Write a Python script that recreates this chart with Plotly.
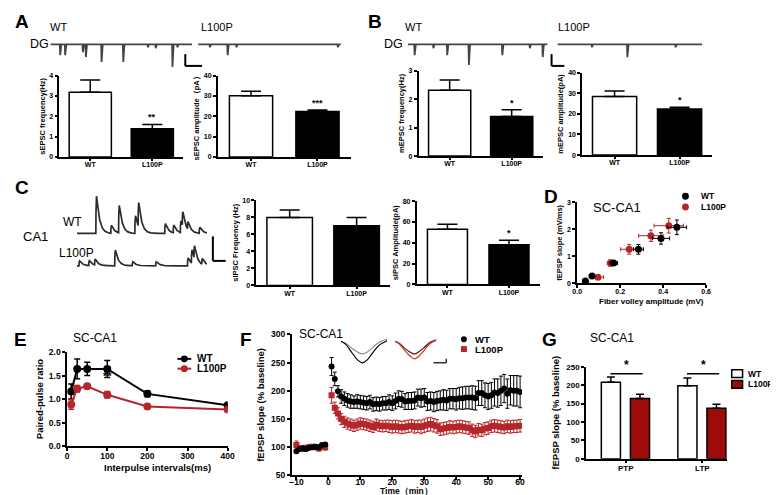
import numpy as np
import plotly.graph_objects as go

W, H = 778, 495
FONT = "Liberation Sans"
RED = "#b5262a"
BAR_RED = "#9e0b0b"

genotypes = ["WT", "L100P"]

# A: sEPSC in DG
sepsc_freq = [3.19, 1.39]
sepsc_freq_sem = [0.60, 0.21]
sepsc_amp = [30.2, 22.4]
sepsc_amp_sem = [2.1, 0.7]
# B: mEPSC in DG
mepsc_freq = [2.32, 1.39]
mepsc_freq_sem = [0.36, 0.24]
mepsc_amp = [28.5, 22.4]
mepsc_amp_sem = [2.6, 0.9]
# C: sIPSC in CA1
sipsc_freq = [7.95, 7.0]
sipsc_freq_sem = [0.9, 0.95]
sipsc_amp = [53.0, 38.2]
sipsc_amp_sem = [4.7, 4.1]

# example recordings: event times (s) and amplitudes (pA)
a_wt_t = [0.69, 1.04, 2.29, 2.50, 3.61, 5.14, 6.88, 7.43, 8.61, 8.96]
a_wt_amp = [22, 22, 16, 26, 36, 36, 6, 8, 46, 6]
a_mut_t = [0.83, 2.07, 2.69, 9.79]
a_mut_amp = [6, 22, 6, 6]
b_wt_t = [0.49, 1.83, 2.82, 4.37, 6.76, 8.73, 9.65]
b_wt_amp = [22, 8, 22, 42, 22, 8, 26]
b_mut_t = [2.38, 4.83, 8.16]
b_mut_amp = [6, 26, 6]
c_wt_t = [0.29, 0.52, 0.64, 0.89, 0.94, 1.35, 1.48, 1.59, 1.62, 1.70, 1.88]
c_wt_amp = [76, 16, 56, 36, 50, 20, 16, 24, 30, 16, 12]
c_mut_t = [0.03, 0.18, 0.27, 0.58, 0.85, 1.21, 1.70, 1.76, 1.80, 1.92]
c_mut_amp = [10, 10, 12, 32, 8, 8, 16, 28, 26, 12]

# D: input-output
fv_wt = [0.038, 0.069, 0.17, 0.285, 0.39, 0.464]
fv_wt_sem = [0.008, 0.012, 0.018, 0.023, 0.04, 0.045]
slope_wt = [0.085, 0.27, 0.75, 1.26, 1.66, 2.07]
slope_wt_sem = [0.05, 0.05, 0.05, 0.18, 0.21, 0.27]
fv_mut = [0.041, 0.097, 0.155, 0.242, 0.343, 0.426]
fv_mut_sem = [0.01, 0.026, 0.015, 0.04, 0.057, 0.068]
slope_mut = [0.02, 0.23, 0.75, 1.26, 1.76, 2.13]
slope_mut_sem = [0.03, 0.04, 0.12, 0.18, 0.21, 0.27]

# E: paired-pulse ratio
ipi = [10, 25, 50, 100, 200, 400]
ppr_wt = [1.16, 1.64, 1.64, 1.64, 1.11, 0.87]
ppr_wt_sem = [0.16, 0.21, 0.14, 0.18, 0.06, 0.03]
ppr_mut = [0.885, 1.22, 1.27, 1.09, 0.84, 0.78]
ppr_mut_sem = [0.1, 0.07, 0.03, 0.07, 0.03, 0.03]

# F: LTP time course
t_base = [-10, -9, -8, -7, -6, -5, -4, -3, -2, -1]
t_post = list(range(1, 61))
f_wt_base = [93, 97, 98, 97, 99, 100, 101, 100, 104, 105]
f_wt_base_sem = [3, 3, 3, 3, 3, 3, 3, 3, 3, 3]
f_mut_base = [104, 98, 97, 99, 100, 101, 100, 98, 101, 100]
f_mut_base_sem = [7, 5, 4, 4, 4, 4, 4, 5, 5, 5]
f_wt_post = [243, 221, 199, 190, 186, 183, 181, 180, 181, 180,
             179, 178, 180, 176, 177, 176, 178, 178, 180, 178,
             182, 186, 185, 181, 182, 182, 183, 188, 187, 188,
             181, 182, 180, 182, 183, 184, 183, 186, 186, 185,
             187, 187, 188, 188, 188, 187, 196, 196, 192, 190,
             192, 197, 196, 200, 204, 195, 201, 200, 200, 198]
f_wt_post_sem = [16, 12, 10, 12, 12, 12, 12, 11, 12, 12,
                 12, 12, 12, 12, 12, 12, 12, 12, 13, 13,
                 14, 14, 14, 14, 15, 15, 15, 15, 16, 16,
                 16, 16, 17, 17, 17, 18, 18, 18, 18, 19,
                 19, 20, 20, 20, 21, 21, 22, 22, 22, 23,
                 23, 24, 25, 26, 25, 26, 26, 27, 27, 28]
f_mut_post = [192, 170, 160, 150, 145, 142, 140, 138, 140, 142,
              141, 140, 138, 136, 140, 138, 137, 138, 137, 136,
              137, 136, 135, 136, 137, 138, 136, 137, 136, 138,
              140, 141, 139, 137, 132, 133, 134, 136, 135, 136,
              137, 136, 135, 134, 130, 128, 131, 130, 133, 134,
              137, 138, 137, 136, 135, 137, 136, 137, 137, 138]
f_mut_post_sem = [14, 10, 10, 10, 10, 10, 10, 10, 10, 10,
                  10, 10, 10, 10, 10, 10, 10, 10, 11, 11,
                  11, 11, 11, 11, 11, 11, 11, 11, 12, 12,
                  12, 12, 12, 12, 11, 11, 11, 11, 11, 11,
                  11, 11, 11, 11, 11, 11, 11, 11, 11, 11,
                  11, 11, 11, 11, 11, 11, 11, 11, 11, 11]
# F inset fEPSP waveforms (ms, mV)
inset_t = [0, 1, 2.3, 3.6, 4.7, 5.7, 7, 8.3, 10]
wt_before = [0, -0.08, -0.28, -0.44, -0.52, -0.44, -0.24, -0.04, 0.08]
wt_after = [0, -0.12, -0.44, -0.76, -0.88, -0.76, -0.44, -0.16, 0.02]
mut_before = [0, -0.08, -0.28, -0.44, -0.52, -0.44, -0.26, -0.06, 0.06]
mut_after = [0, -0.1, -0.36, -0.6, -0.72, -0.62, -0.38, -0.12, 0.04]

# G: PTP / LTP summary
stages = ["PTP", "LTP"]
g_wt = [208, 198.6]
g_wt_sem = [14, 21]
g_mut = [164, 137]
g_mut_sem = [11, 11]


fig = go.Figure()
lay = dict(width=W, height=H, margin=dict(l=0, r=0, t=0, b=0),
           paper_bgcolor="white", plot_bgcolor="rgba(0,0,0,0)",
           showlegend=False, barmode="overlay",
           font=dict(family=FONT, color="black"))
shapes = []
annos = []


def px_x(px):
    return px / W


def px_y(py):
    return 1 - py / H


def ref(n, a="x"):
    return a if n == 1 else f"{a}{n}"


def key(n, a="x"):
    return f"{a}axis" if n == 1 else f"{a}axis{n}"


def bfont(size, bold=True, color="black"):
    return dict(family=FONT, size=size, color=color, weight="bold" if bold else "normal")


def axis(**kw):
    a = dict(showline=True, linecolor="black", linewidth=1.5, ticks="outside",
             ticklen=3, tickwidth=1.5, tickcolor="black", showgrid=False,
             zeroline=False, fixedrange=True, tickfont=bfont(7))
    a.update(kw)
    return a


def set_axes(n, xbox, ybox, xkw, ykw):
    lay[key(n)] = axis(domain=[px_x(xbox[0]), px_x(xbox[1])], anchor=ref(n, "y"), **xkw)
    lay[key(n, "y")] = axis(domain=[px_y(ybox[1]), px_y(ybox[0])], anchor=ref(n), **ykw)


def text(x, y, s, size, bold=False, xanchor="center", color="black", yanchor="middle"):
    annos.append(dict(x=px_x(x), y=px_y(y), xref="paper", yref="paper", text=s,
                      showarrow=False, xanchor=xanchor, yanchor=yanchor,
                      font=bfont(size, bold, color)))


def seg(x0, y0, x1, y1, width=2, color="black"):
    shapes.append(dict(type="line", xref="paper", yref="paper", x0=px_x(x0), y0=px_y(y0),
                       x1=px_x(x1), y1=px_y(y1), line=dict(color=color, width=width)))


def bar_panel(n, xbox, ybox, vals, sems, ymax, dtick, ytitle, stars, width=0.68):
    fig.add_trace(go.Bar(
        x=genotypes, y=vals, width=width,
        marker=dict(color=["white", "black"], line=dict(color="black", width=1.5)),
        error_y=dict(type="data", symmetric=False, array=sems, arrayminus=[0, 0],
                     color="black", thickness=1.5, width=10),
        xaxis=ref(n), yaxis=ref(n, "y")))
    set_axes(n, xbox, ybox,
             dict(type="category", range=[-0.5, 1.5], ticklen=2, ticklabelstandoff=-2),
             dict(range=[0, ymax], dtick=dtick,
                  title=dict(text=ytitle, standoff=3, font=bfont(7.5))))
    annos.append(dict(xref=ref(n), yref=ref(n, "y"), x=1, y=vals[1] + sems[1], text=stars,
                      showarrow=False, yanchor="bottom", yshift=0, font=bfont(9)))


def epsc_trace(n, xbox, ybox, times, amps, span=10.0):
    xs, ys = [0], [0]
    for t, a in zip(times, amps):
        xs += [t - 0.03, t, t + 0.08]
        ys += [0, -a, 0]
    xs.append(span)
    ys.append(0)
    fig.add_trace(go.Scatter(x=xs, y=ys, mode="lines", line=dict(color="#444444", width=1.8),
                             xaxis=ref(n), yaxis=ref(n, "y")))
    set_axes(n, xbox, ybox, dict(range=[0, span], visible=False),
             dict(range=[-50, 10], visible=False))


def ipsc_trace(n, xbox, ybox, times, amps, yr, span=2.0):
    t = np.linspace(0, span, 801)
    k = np.linspace(0, 0.3, 3001)
    kern = (1 - np.exp(-k / 0.004)) * np.exp(-k / 0.045)
    norm = kern.max()
    y = np.zeros_like(t)
    for t0, a in zip(times, amps):
        dt = t - t0
        m = dt >= 0
        y[m] += a * (1 - np.exp(-dt[m] / 0.004)) * np.exp(-dt[m] / 0.045) / norm
    fig.add_trace(go.Scatter(x=t, y=y, mode="lines", line=dict(color="#2a2a2a", width=1.7),
                             xaxis=ref(n), yaxis=ref(n, "y")))
    set_axes(n, xbox, ybox, dict(range=[0, span], visible=False),
             dict(range=yr, visible=False))


# ---------------- A / B / C bar charts ----------------
bar_panel(1, (47, 173), (64, 147), sepsc_freq, sepsc_freq_sem, 4, 1, "sEPSC frequency(Hz)", "**")
bar_panel(2, (208, 343), (64, 147), sepsc_amp, sepsc_amp_sem, 40, 10, "sEPSC amplitude（pA）", "***", 0.65)
bar_panel(3, (412, 538), (59, 146), mepsc_freq, mepsc_freq_sem, 3, 1, "mEPSC frequency(Hz)", "*")
bar_panel(4, (578, 710), (61, 145), mepsc_amp, mepsc_amp_sem, 40, 10, "mEPSC amplitude(pA)", "*")
bar_panel(5, (247, 383), (191, 278), sipsc_freq, sipsc_freq_sem, 10, 2, "sIPSC Frequency (Hz)", "")
bar_panel(6, (410, 535), (192, 277), sipsc_amp, sipsc_amp_sem, 80, 20, "sIPSC Amplitude(pA)", "*", 0.65)

# ---------------- D: input-output ----------------
fig.add_trace(go.Scatter(
    x=fv_mut, y=slope_mut, mode="markers", marker=dict(color=RED, size=7),
    error_x=dict(array=fv_mut_sem, color=RED, thickness=1, width=2),
    error_y=dict(array=slope_mut_sem, color=RED, thickness=1, width=2),
    xaxis="x7", yaxis="y7"))
fig.add_trace(go.Scatter(
    x=fv_wt, y=slope_wt, mode="markers", marker=dict(color="black", size=7),
    error_x=dict(array=fv_wt_sem, color="black", thickness=1, width=2),
    error_y=dict(array=slope_wt_sem, color="black", thickness=1, width=2),
    xaxis="x7", yaxis="y7"))
set_axes(7, (573, 704), (193, 276),
         dict(range=[0, 0.6], dtick=0.2, tickformat=".1f", ticklabelstandoff=-3),
         dict(range=[0, 3], dtick=1,
              title=dict(text="fEPSP slope (mV/ms)", standoff=3, font=bfont(7.5))))
text(648, 294, "Fiber volley amplitude (mV)", 8, True)

# ---------------- E: paired-pulse ratio ----------------
fig.add_trace(go.Scatter(
    x=ipi, y=ppr_wt, mode="lines+markers", line=dict(color="black", width=2),
    marker=dict(color="black", size=8),
    error_y=dict(array=ppr_wt_sem, color="black", thickness=1.5, width=3),
    xaxis="x8", yaxis="y8"))
fig.add_trace(go.Scatter(
    x=ipi, y=ppr_mut, mode="lines+markers", line=dict(color=RED, width=2),
    marker=dict(color=RED, size=8),
    error_y=dict(array=ppr_mut_sem, color=RED, thickness=1.5, width=3),
    xaxis="x8", yaxis="y8"))
set_axes(8, (55, 218), (346, 442),
         dict(range=[0, 400], dtick=100, tickfont=bfont(8.5), ticklabelstandoff=-2),
         dict(range=[0, 2], dtick=0.5, tickformat=".1f", tickfont=bfont(8.5),
              title=dict(text="Paired-pulse ratio", standoff=4, font=bfont(9.5))))
text(147, 464, "Interpulse intervals(ms)", 9.5, True)
annos.append(dict(xref="x8", yref="y8", x=100, y=1.48, text="**", showarrow=False,
                  font=bfont(11)))

# ---------------- F: LTP time course ----------------
for tt, vv, ss in ((t_base, f_mut_base, f_mut_base_sem), (t_post, f_mut_post, f_mut_post_sem)):
    fig.add_trace(go.Scatter(
        x=tt, y=vv, mode="markers", marker=dict(color=RED, size=6, symbol="square"),
        error_y=dict(array=ss, color=RED, thickness=1, width=2),
        xaxis="x9", yaxis="y9"))
for tt, vv, ss in ((t_base, f_wt_base, f_wt_base_sem), (t_post, f_wt_post, f_wt_post_sem)):
    fig.add_trace(go.Scatter(
        x=tt, y=vv, mode="markers", marker=dict(color="black", size=6),
        error_y=dict(array=ss, color="black", thickness=1, width=2),
        xaxis="x9", yaxis="y9"))
set_axes(9, (283, 517), (328, 472),
         dict(range=[-11.5, 60.6], dtick=10, tick0=0, tickfont=bfont(8.5), ticklabelstandoff=-5),
         dict(range=[50, 300], dtick=50, tickfont=bfont(8.5),
              title=dict(text="fEPSP slope (% baseline)", standoff=5, font=bfont(9.5))))
text(400, 495, "Time（min）", 8.5, True, yanchor="bottom")

# inset fEPSPs
for yy, col, w in ((wt_before, "#8a8a8a", 1.2), (wt_after, "black", 1.2)):
    fig.add_trace(go.Scatter(x=inset_t, y=yy, mode="lines", line=dict(color=col, width=w, shape="spline"),
                             xaxis="x17", yaxis="y17"))
for yy, col, w in ((mut_before, "#5a1010", 1.2), (mut_after, "#d03030", 1.2)):
    fig.add_trace(go.Scatter(x=inset_t, y=yy, mode="lines", line=dict(color=col, width=w, shape="spline"),
                             xaxis="x18", yaxis="y18"))
set_axes(17, (333, 380), (328, 360), dict(range=[0, 10], visible=False), dict(range=[-1.0, 0.28], visible=False))
set_axes(18, (388, 430), (328, 360), dict(range=[0, 10], visible=False), dict(range=[-1.0, 0.28], visible=False))

# ---------------- G: PTP / LTP bars ----------------
fig.add_trace(go.Bar(
    x=stages, y=g_wt, width=0.25, offset=-0.32,
    marker=dict(color="white", line=dict(color="black", width=1.5)),
    error_y=dict(type="data", symmetric=False, array=g_wt_sem, arrayminus=[0, 0],
                 color="black", thickness=1.5, width=4),
    xaxis="x10", yaxis="y10"))
fig.add_trace(go.Bar(
    x=stages, y=g_mut, width=0.25, offset=0.06,
    marker=dict(color=BAR_RED, line=dict(color="black", width=1.5)),
    error_y=dict(type="data", symmetric=False, array=g_mut_sem, arrayminus=[0, 0],
                 color="black", thickness=1.5, width=4),
    xaxis="x10", yaxis="y10"))
set_axes(10, (582, 725), (361, 455),
         dict(type="category", range=[-0.52, 1.32], ticklen=2, tickfont=bfont(8),
              ticklabelstandoff=-1),
         dict(range=[0, 250], dtick=50, tickfont=bfont(8),
              title=dict(text="fEPSP slope (% baseline)", standoff=5, font=bfont(9.5))))
for c in (0, 1):
    shapes.append(dict(type="line", xref="x10", yref="y10", x0=c - 0.2, x1=c + 0.22,
                       y0=231, y1=231, line=dict(color="black", width=1.5)))
    annos.append(dict(xref="x10", yref="y10", x=c + 0.01, y=231, text="*", showarrow=False,
                      yanchor="bottom", font=bfont(12)))

# ---------------- recordings ----------------
epsc_trace(11, (38, 182), (27, 57), a_wt_t, a_wt_amp)
epsc_trace(12, (188, 333), (27, 57), a_mut_t, a_mut_amp)
epsc_trace(13, (401, 543), (27, 57), b_wt_t, b_wt_amp)
epsc_trace(14, (553, 700), (27, 57), b_mut_t, b_mut_amp)
ipsc_trace(15, (65, 197), (180, 230), c_wt_t, c_wt_amp, [-10, 90])
ipsc_trace(16, (65, 197), (233, 263), c_mut_t, c_mut_amp, [-10, 50])

# scale bars
seg(175, 42, 175, 54)
seg(175, 54, 192, 54)
seg(547, 42, 547, 54)
seg(547, 54, 560, 54)
seg(203, 228, 203, 253)
seg(203, 253, 216, 253)
seg(427, 357, 440, 357, 1.2)
seg(440, 353, 440, 357, 1.2)

# ---------------- labels ----------------
for s, x, y in (("A", 9, 9), ("B", 368, 9), ("C", 9, 178), ("D", 546, 187),
                ("E", 8, 333), ("F", 237, 333), ("G", 545, 333)):
    text(x, y, s, 19, True)
text(46, 14, "WT", 11)
text(207, 14, "L100P", 11)
text(27, 32, "DG", 12.5)
text(407, 14, "WT", 11)
text(570, 14, "L100P", 11)
text(386, 32, "DG", 12.5)
text(60, 213, "WT", 12)
text(64, 245, "L100P", 12)
text(23, 228, "CA1", 13)
text(613, 198, "SC-CA1", 13)
text(83, 332, "SC-CA1", 12)
text(313, 328, "SC-CA1", 12)
text(608, 332, "SC-CA1", 12)


# legends (keys drawn as shapes)
def dot(cx, cy, r, color, square=False):
    shapes.append(dict(type="rect" if square else "circle", xref="paper", yref="paper",
                       x0=px_x(cx - r), x1=px_x(cx + r), y0=px_y(cy + r), y1=px_y(cy - r),
                       fillcolor=color, line=dict(color=color, width=0)))


dot(683, 187, 3.5, "black")
dot(683, 198, 3.5, RED)
text(697, 187, "WT", 8.5, True, "left")
text(697, 198, "L100P", 8.5, True, "left")

seg(167, 353, 181, 353, 2)
dot(174, 353, 3.5, "black")
seg(167, 363, 181, 363, 2, RED)
dot(174, 363, 3.5, RED)
text(185, 353, "WT", 10, True, "left")
text(185, 363, "L100P", 10, True, "left")

dot(458, 333, 3, "black")
dot(458, 343, 3, RED, square=True)
text(467, 333, "WT", 9.5, True, "left")
text(467, 343, "L100P", 9.5, True, "left")

shapes.append(dict(type="rect", xref="paper", yref="paper", x0=px_x(730), x1=px_x(741),
                   y0=px_y(372), y1=px_y(364), fillcolor="white", line=dict(color="black", width=1.5)))
shapes.append(dict(type="rect", xref="paper", yref="paper", x0=px_x(730), x1=px_x(741),
                   y0=px_y(383), y1=px_y(375), fillcolor=BAR_RED, line=dict(color="black", width=1.5)))
text(744, 368, "WT", 8.5, True, "left")
text(744, 379, "L100P", 8.5, True, "left")

lay["shapes"] = shapes
lay["annotations"] = annos
fig.update_layout(**lay)
fig.update_traces(showlegend=False)
fig.write_html("out.html")
